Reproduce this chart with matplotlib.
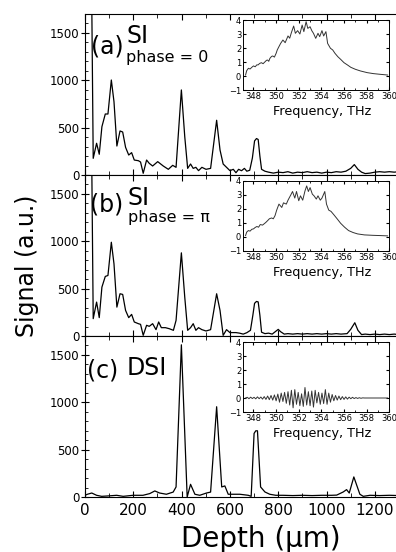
import matplotlib
matplotlib.use("Agg")
import matplotlib.pyplot as plt
from matplotlib.ticker import MultipleLocator

# depth scans (um, a.u.)
depth_a = [0, 23, 34, 48, 59, 70, 84, 95, 109, 120, 132, 145, 156, 168, 181, 193, 204, 221, 230, 241,
           255, 266, 280, 301, 324, 345, 363, 377, 399, 413, 425, 437, 448, 459, 470, 484, 501, 520,
           545, 559, 572, 586, 600, 614, 625, 636, 648, 660, 670, 682, 693, 702, 710, 717, 724, 731,
           745, 760, 780, 800, 820, 840, 860, 880, 900, 920, 940, 960, 980, 1000, 1020, 1040, 1060,
           1080, 1100, 1115, 1130, 1145, 1160, 1180, 1200, 1220, 1240, 1260, 1280, 1300]
sig_a = [9000, 3200, 176, 335, 219, 510, 644, 644, 1003, 774, 306, 465, 454, 292, 211, 236, 158, 151, 137, 18,
         158, 123, 95, 141, 95, 60, 102, 81, 898, 405, 70, 116, 70, 81, 46, 81, 60, 70,
         578, 264, 116, 81, 46, 60, 24, 60, 45, 70, 40, 50, 180, 360, 385, 375, 200, 60,
         40, 30, 20, 30, 25, 35, 20, 30, 25, 35, 25, 30, 20, 30, 25, 35, 30,
         40, 70, 110, 60, 30, 15, 20, 30, 35, 30, 35, 30, 35]

depth_b = [0, 23, 34, 48, 59, 70, 84, 95, 109, 120, 132, 145, 156, 168, 181, 193, 204, 221, 230, 241,
           255, 266, 280, 294, 305, 316, 333, 349, 366, 377, 399, 413, 425, 437, 448, 459, 470, 484,
           501, 520, 545, 559, 572, 586, 600, 625, 640, 655, 670, 685, 695, 702, 710, 717, 724, 731,
           745, 760, 775, 790, 800, 810, 825, 840, 860, 880, 900, 920, 940, 960, 980, 1000, 1020,
           1040, 1060, 1085, 1100, 1117, 1130, 1145, 1160, 1180, 1200, 1220, 1240, 1260, 1280, 1300]
sig_b = [9000, 3200, 183, 358, 194, 516, 629, 639, 990, 762, 305, 446, 439, 270, 194, 228, 148, 130, 123, 7,
         113, 102, 130, 67, 148, 88, 88, 77, 60, 165, 878, 410, 60, 88, 130, 60, 88, 67,
         53, 67, 446, 270, 7, 67, 36, 36, 30, 20, 35, 60, 220, 345, 365, 360, 220, 40,
         25, 30, 20, 50, 70, 45, 20, 25, 20, 25, 20, 25, 20, 25, 20, 25, 20,
         25, 20, 25, 70, 140, 60, 15, 20, 15, 20, 15, 20, 15, 20, 15]

depth_c = [0, 10, 28, 48, 69, 100, 131, 158, 199, 240, 268, 289, 309, 337, 365, 377, 399, 423, 437, 455,
           475, 503, 520, 545, 566, 579, 593, 627, 641, 676, 688, 700, 707, 714, 727, 745, 765, 790,
           820, 860, 900, 940, 980, 1020, 1042, 1069, 1083, 1094, 1113, 1138, 1152, 1180, 1220, 1260, 1300]
sig_c = [18, 29, 42, 18, 7, 12, 18, 7, 18, 18, 36, 64, 42, 29, 52, 106, 1607, 0, 134, 29,
         18, 42, 52, 953, 106, 117, 29, 29, 29, 18, 7, 671, 699, 699, 106, 53, 29, 18,
         18, 15, 18, 15, 18, 18, 20, 53, 78, 42, 212, 29, 7, 18, 15, 18, 15]

# spectra (THz, a.u.)
freq_a = [347.3, 347.4, 347.55, 347.7, 347.85, 348.0, 348.15, 348.3, 348.4, 348.55, 348.7, 348.85, 349.0,
          349.15, 349.25, 349.35, 349.45, 349.6, 349.7, 349.85, 350.0, 350.1, 350.25, 350.4, 350.6, 350.8,
          351.05, 351.2, 351.35, 351.55, 351.7, 351.9, 352.1, 352.3, 352.45, 352.65, 352.8, 353.0, 353.15,
          353.3, 353.5, 353.7, 353.85, 354.05, 354.2, 354.4, 354.55, 354.8, 355.0, 355.2, 355.45, 355.7,
          356.0, 356.3, 356.6, 357.0, 357.45, 358.05, 358.6, 359.2, 359.85]
spec_a = [0.07, 0.38, 0.55, 0.5, 0.62, 0.72, 0.66, 0.8, 0.79, 0.9, 0.95, 0.88, 1.0,
          1.12, 1.14, 1.05, 1.26, 1.4, 1.43, 1.35, 1.62, 1.86, 2.1, 2.33, 2.57, 2.38,
          2.86, 2.7, 3.1, 3.57, 3.05, 3.24, 3.0, 3.64, 3.17, 3.88, 3.4, 3.52, 3.24,
          3.05, 2.69, 3.05, 2.81, 3.24, 2.86, 3.17, 2.33, 1.98, 1.86, 1.62, 1.38, 1.19,
          0.95, 0.79, 0.62, 0.48, 0.36, 0.24, 0.17, 0.12, 0.07]

freq_b = [347.3, 347.4, 347.55, 347.7, 347.85, 348.0, 348.15, 348.3, 348.45, 348.6, 348.8, 349.0, 349.1,
          349.25, 349.4, 349.6, 349.75, 349.9, 350.05, 350.25, 350.5, 350.65, 350.9, 351.05, 351.3, 351.45,
          351.65, 351.8, 352.0, 352.15, 352.35, 352.55, 352.7, 352.85, 353.0, 353.2, 353.35, 353.55, 353.7,
          353.9, 354.05, 354.3, 354.45, 354.65, 354.85, 355.1, 355.4, 355.7, 356.05, 356.4, 356.8, 357.2,
          357.8, 358.55, 359.25, 359.85]
spec_b = [0.1, 0.35, 0.46, 0.42, 0.55, 0.58, 0.68, 0.75, 0.7, 0.89, 0.85, 0.98, 1.05,
          1.17, 1.3, 1.36, 1.3, 1.52, 1.92, 2.35, 2.11, 2.44, 2.35, 2.63, 3.01, 3.25,
          2.78, 3.25, 2.59, 2.94, 2.63, 3.29, 3.65, 3.25, 3.53, 3.06, 2.94, 2.71, 2.94,
          2.63, 2.78, 3.25, 2.35, 1.92, 1.83, 1.59, 1.29, 0.98, 0.7, 0.46, 0.32, 0.22,
          0.15, 0.12, 0.1, 0.08]

freq_c = [347.3, 347.45, 347.6, 347.75, 347.9, 348.05, 348.2, 348.35, 348.5, 348.65, 348.8, 348.95,
          349.1, 349.25, 349.4, 349.55, 349.7, 349.85, 350.0, 350.15, 350.3, 350.45, 350.6, 350.75,
          350.9, 351.05, 351.2, 351.35, 351.5, 351.65, 351.8, 351.95, 352.1, 352.25, 352.4, 352.55,
          352.7, 352.85, 353.0, 353.15, 353.3, 353.45, 353.6, 353.75, 353.9, 354.05, 354.2, 354.35,
          354.5, 354.65, 354.8, 354.95, 355.1, 355.25, 355.4, 355.55, 355.7, 355.85, 356.0, 356.15,
          356.3, 356.45, 356.6, 356.75, 356.9, 357.05, 357.2, 357.35, 357.5, 357.65, 357.8, 359.85]
spec_c = [0.0, 0.05, -0.05, 0.06, -0.04, 0.05, -0.06, 0.08, -0.05, 0.07, -0.08, 0.1,
          -0.1, 0.14, -0.12, 0.18, -0.15, 0.22, -0.2, 0.28, -0.3, 0.35, -0.25, 0.4,
          -0.38, 0.45, -0.5, 0.55, -0.7, 0.6, -0.45, 0.4, -0.55, 0.3, -0.6, 0.75,
          -0.5, 0.45, -0.55, 0.5, -0.65, 0.55, -0.35, 0.4, -0.45, 0.35, -0.4, 0.6,
          -0.45, 0.35, -0.3, 0.25, -0.2, 0.18, -0.15, 0.14, -0.12, 0.1, -0.1, 0.08,
          -0.08, 0.06, -0.05, 0.05, -0.04, 0.03, -0.03, 0.02, -0.02, 0.01, 0.0, 0.0]

W, H = 396, 552
fig = plt.figure(figsize=(W / 100, H / 100), dpi=100)
fig.patch.set_facecolor("white")

panels = [
    (depth_a, sig_a, freq_a, spec_a, 14, "(a)", "SI", "phase = 0"),
    (depth_b, sig_b, freq_b, spec_b, 175, "(b)", "SI", "phase = \u03c0"),
    (depth_c, sig_c, freq_c, spec_c, 336, "(c)", "DSI", None),
]

for i, (dx, dy, fx, fy, top, tag, name, phase) in enumerate(panels):
    ax = fig.add_axes([85 / W, 1 - (top + 161) / H, 314 / W, 161 / H])
    ax.plot(dx, dy, color="black", lw=0.9)
    ax.set_xlim(0, 1300)
    ax.set_ylim(0, 1700)
    ax.xaxis.set_major_locator(MultipleLocator(200))
    ax.xaxis.set_minor_locator(MultipleLocator(100))
    ax.yaxis.set_major_locator(MultipleLocator(500))
    ax.yaxis.set_minor_locator(MultipleLocator(100))
    ax.tick_params(axis="x", which="both", direction="in", top=True, labelsize=11, pad=4)
    ax.tick_params(axis="x", which="major", length=4)
    ax.tick_params(axis="x", which="minor", length=3)
    ax.tick_params(axis="y", which="major", direction="inout", length=6, labelsize=8.5, pad=1)
    ax.tick_params(axis="y", which="minor", direction="in", length=2.5)
    ax.spines["right"].set_visible(False)
    for s in ax.spines.values():
        s.set_linewidth(0.8)
    if i < 2:
        ax.tick_params(axis="x", labelbottom=False)

    if i == 0:
        ax.text(24, 1285, tag, fontsize=17, va="baseline")
        ax.text(170, 1397, name, fontsize=17, va="baseline")
        ax.text(170, 1196, phase, fontsize=11.5, va="baseline")
    elif i == 1:
        ax.text(21, 1313, tag, fontsize=17, va="baseline")
        ax.text(178, 1384, name, fontsize=17, va="baseline")
        ax.text(178, 1200, phase, fontsize=11.5, va="baseline")
    else:
        ax.text(10, 1264, tag, fontsize=17, va="baseline")
        ax.text(173, 1290, name, fontsize=17, va="baseline")

    # inset spectrum
    ins = fig.add_axes([243.3 / W, 1 - (top + 6 + 70) / H, 146 / W, 70 / H])
    ins.set_facecolor("white")
    ins.plot(fx, fy, color="#333333", lw=0.7)
    ins.set_xlim(347.1, 360)
    ins.set_ylim(-1, 4)
    ins.set_xticks([348, 350, 352, 354, 356, 358, 360])
    ins.xaxis.set_minor_locator(MultipleLocator(1))
    ins.set_yticks([-1, 0, 1, 2, 3, 4])
    ins.tick_params(which="both", direction="in", top=True, right=True, labelsize=6, pad=1.5)
    ins.tick_params(which="major", length=2.5)
    ins.tick_params(which="minor", length=1.5)
    for s in ins.spines.values():
        s.set_linewidth(0.7)
    ins.text(0.54, -0.36, "Frequency, THz", transform=ins.transAxes, fontsize=9.2,
             ha="center", va="baseline")

fig.text(27 / W, 1 - 266 / H, "Signal (a.u.)", rotation=90, fontsize=17, ha="center", va="center")
fig.text(261 / W, 1 - 546.7 / H, "Depth (\u03bcm)", fontsize=20, ha="center", va="baseline")

fig.savefig("out.png", dpi=100, facecolor="white")
